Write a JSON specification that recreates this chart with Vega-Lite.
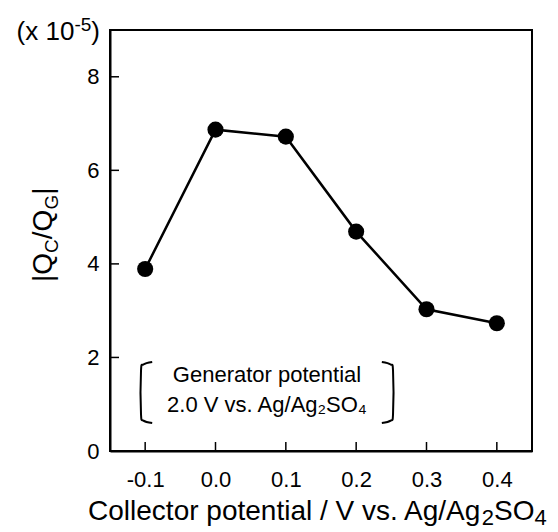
{
  "$schema": "https://vega.github.io/schema/vega-lite/v6.json",
  "width": 422,
  "height": 421,
  "autosize": "none",
  "padding": {"left": 110, "top": 30, "right": 26, "bottom": 81},
  "background": "white",
  "config": {
    "font": "Liberation Sans",
    "view": {"stroke": "black", "strokeWidth": 2},
    "axis": {
      "grid": false,
      "domainColor": "black",
      "domainWidth": 2,
      "tickColor": "black",
      "tickWidth": 1.5,
      "labelColor": "black",
      "titleColor": "black",
      "titleFontWeight": "normal",
      "labelFont": "Liberation Sans",
      "titleFont": "Liberation Sans"
    }
  },
  "datasets": {
    "points": [
      {"potential": -0.1, "ratio": 3.89},
      {"potential": 0.0, "ratio": 6.87},
      {"potential": 0.1, "ratio": 6.72},
      {"potential": 0.2, "ratio": 4.69},
      {"potential": 0.3, "ratio": 3.03},
      {"potential": 0.4, "ratio": 2.73}
    ],
    "xticks": [
      {"tick": -0.1}, {"tick": 0.0}, {"tick": 0.1}, {"tick": 0.2}, {"tick": 0.3}, {"tick": 0.4}
    ],
    "yticks": [
      {"tick": 2}, {"tick": 4}, {"tick": 6}, {"tick": 8}
    ],
    "brackets": [
      {"side": "left", "order": 1, "bx": -0.0900, "by": 1.903},
      {"side": "left", "order": 2, "bx": -0.1025, "by": 1.85},
      {"side": "left", "order": 3, "bx": -0.1059, "by": 1.72},
      {"side": "left", "order": 4, "bx": -0.1059, "by": 0.78},
      {"side": "left", "order": 5, "bx": -0.1025, "by": 0.65},
      {"side": "left", "order": 6, "bx": -0.0900, "by": 0.599},
      {"side": "right", "order": 1, "bx": 0.2365, "by": 1.903},
      {"side": "right", "order": 2, "bx": 0.2490, "by": 1.85},
      {"side": "right", "order": 3, "bx": 0.2524, "by": 1.72},
      {"side": "right", "order": 4, "bx": 0.2524, "by": 0.78},
      {"side": "right", "order": 5, "bx": 0.2490, "by": 0.65},
      {"side": "right", "order": 6, "bx": 0.2365, "by": 0.599}
    ],
    "one": [{"label": "annotation"}]
  },
  "data": {"name": "points"},
  "layer": [
    {
      "mark": {"type": "line", "stroke": "black", "strokeWidth": 2.5},
      "encoding": {
        "x": {
          "field": "potential",
          "type": "quantitative",
          "scale": {"domain": [-0.15, 0.45], "nice": false, "zero": false},
          "axis": {
            "values": [-0.1, 0, 0.1, 0.2, 0.3, 0.4],
            "format": ".1f",
            "labelExpr": "replace(datum.label, '−', '-')",
            "ticks": false,
            "labelFontSize": 22,
            "labelPadding": 18,
            "title": null
          }
        },
        "y": {
          "field": "ratio",
          "type": "quantitative",
          "scale": {"domain": [0, 9], "nice": false, "zero": true},
          "axis": {
            "values": [0, 2, 4, 6, 8],
            "ticks": false,
            "labelFontSize": 22,
            "labelPadding": 11,
            "title": null
          }
        }
      }
    },
    {
      "mark": {"type": "point", "filled": true, "shape": "circle", "size": 260, "fill": "black", "strokeWidth": 0, "opacity": 1},
      "encoding": {
        "x": {"field": "potential", "type": "quantitative"},
        "y": {"field": "ratio", "type": "quantitative"}
      }
    },
    {
      "data": {"name": "xticks"},
      "mark": {"type": "rule", "stroke": "black", "strokeWidth": 1.5},
      "encoding": {
        "x": {"field": "tick", "type": "quantitative"},
        "y": {"datum": 0},
        "y2": {"datum": 0.192}
      }
    },
    {
      "data": {"name": "yticks"},
      "mark": {"type": "rule", "stroke": "black", "strokeWidth": 1.5},
      "encoding": {
        "y": {"field": "tick", "type": "quantitative"},
        "x": {"datum": -0.15},
        "x2": {"datum": -0.1372}
      }
    },
    {
      "data": {"name": "brackets"},
      "mark": {"type": "line", "stroke": "black", "strokeWidth": 2, "interpolate": "cardinal"},
      "encoding": {
        "x": {"field": "bx", "type": "quantitative"},
        "y": {"field": "by", "type": "quantitative"},
        "detail": {"field": "side"},
        "order": {"field": "order"}
      }
    },
    {
      "data": {"name": "one"},
      "layer": [
        {
          "mark": {"type": "text", "fontSize": 22, "align": "center", "baseline": "alphabetic", "fill": "black", "text": "Generator potential"},
          "encoding": {"x": {"datum": 0.0732}, "y": {"datum": 1.475}}
        },
        {
          "mark": {"type": "text", "fontSize": 22, "align": "center", "baseline": "alphabetic", "fill": "black", "text": "2.0 V vs. Ag/Ag₂SO₄"},
          "encoding": {"x": {"datum": 0.0732}, "y": {"datum": 0.834}}
        },
        {
          "mark": {"type": "text", "fontSize": 26, "align": "right", "baseline": "alphabetic", "fill": "black", "text": ")"},
          "encoding": {"x": {"datum": -0.1642}, "y": {"datum": 8.786}}
        },
        {
          "mark": {"type": "text", "fontSize": 19, "align": "right", "baseline": "alphabetic", "fill": "black", "text": "-5", "dx": -8.7, "dy": -9},
          "encoding": {"x": {"datum": -0.1642}, "y": {"datum": 8.786}}
        },
        {
          "mark": {"type": "text", "fontSize": 26, "align": "right", "baseline": "alphabetic", "fill": "black", "text": "(x 10", "dx": -25.6},
          "encoding": {"x": {"datum": -0.1642}, "y": {"datum": 8.786}}
        },
        {
          "mark": {"type": "text", "fontSize": 28, "align": "left", "baseline": "alphabetic", "angle": 270, "fill": "black", "text": "|Q"},
          "encoding": {"x": {"datum": -0.2325}, "y": {"datum": 3.613}}
        },
        {
          "mark": {"type": "text", "fontSize": 19, "align": "left", "baseline": "alphabetic", "angle": 270, "fill": "black", "text": "C", "dx": 29.1, "dy": 6},
          "encoding": {"x": {"datum": -0.2325}, "y": {"datum": 3.613}}
        },
        {
          "mark": {"type": "text", "fontSize": 28, "align": "left", "baseline": "alphabetic", "angle": 270, "fill": "black", "text": "/Q", "dx": 42.8},
          "encoding": {"x": {"datum": -0.2325}, "y": {"datum": 3.613}}
        },
        {
          "mark": {"type": "text", "fontSize": 19, "align": "left", "baseline": "alphabetic", "angle": 270, "fill": "black", "text": "G", "dx": 72.4, "dy": 6},
          "encoding": {"x": {"datum": -0.2325}, "y": {"datum": 3.613}}
        },
        {
          "mark": {"type": "text", "fontSize": 28, "align": "left", "baseline": "alphabetic", "angle": 270, "fill": "black", "text": "|", "dx": 87.2},
          "encoding": {"x": {"datum": -0.2325}, "y": {"datum": 3.613}}
        },
        {
          "mark": {"type": "text", "fontSize": 28, "align": "left", "baseline": "alphabetic", "fill": "black", "text": "Collector potential / V vs. Ag/Ag"},
          "encoding": {"x": {"datum": -0.1812}, "y": {"datum": -1.475}}
        },
        {
          "mark": {"type": "text", "fontSize": 22, "align": "left", "baseline": "alphabetic", "fill": "black", "text": "2", "dx": 393.7, "dy": 5},
          "encoding": {"x": {"datum": -0.1812}, "y": {"datum": -1.475}}
        },
        {
          "mark": {"type": "text", "fontSize": 28, "align": "left", "baseline": "alphabetic", "fill": "black", "text": "SO", "dx": 405.9},
          "encoding": {"x": {"datum": -0.1812}, "y": {"datum": -1.475}}
        },
        {
          "mark": {"type": "text", "fontSize": 22, "align": "left", "baseline": "alphabetic", "fill": "black", "text": "4", "dx": 446.4, "dy": 5},
          "encoding": {"x": {"datum": -0.1812}, "y": {"datum": -1.475}}
        }
      ]
    }
  ]
}
